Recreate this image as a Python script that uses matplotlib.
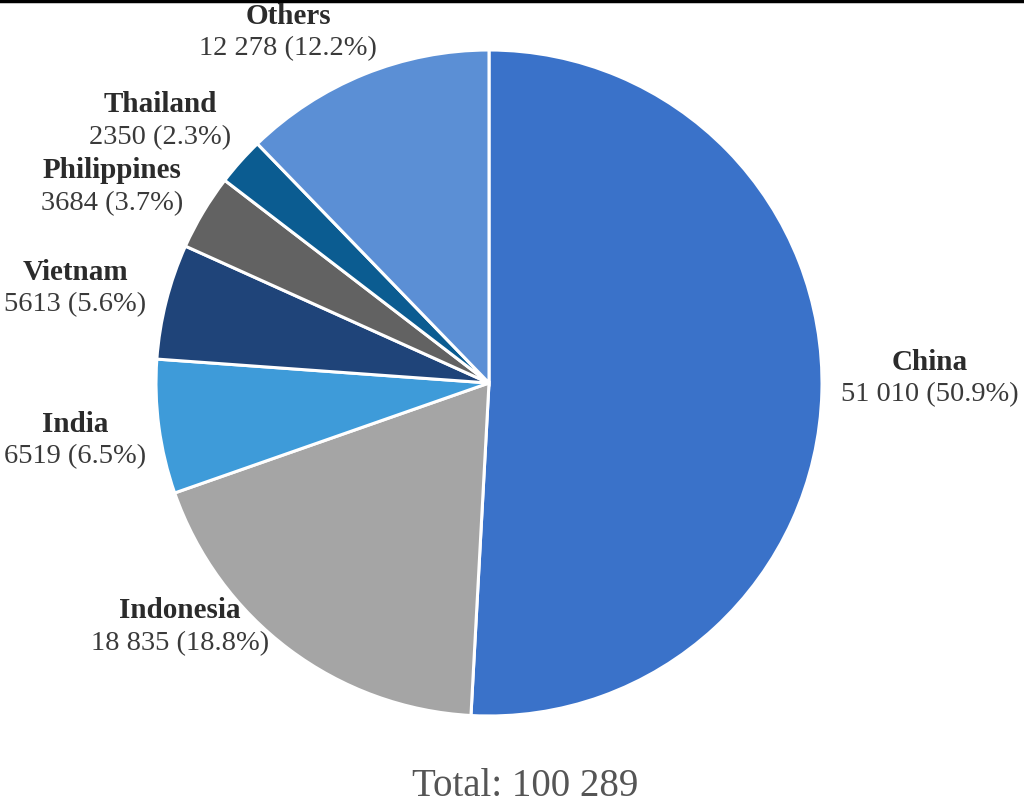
import matplotlib
matplotlib.use("Agg")
import matplotlib.pyplot as plt
from matplotlib.lines import Line2D

countries = ["China", "Indonesia", "India", "Vietnam", "Philippines", "Thailand", "Others"]
values = [51010, 18835, 6519, 5613, 3684, 2350, 12278]
value_labels = ["51 010 (50.9%)", "18 835 (18.8%)", "6519 (6.5%)", "5613 (5.6%)",
                "3684 (3.7%)", "2350 (2.3%)", "12 278 (12.2%)"]
total_label = "Total: 100 289"

colors = ["#3a72c9", "#a5a5a5", "#3e9bd9", "#1f4479", "#626262", "#0b5c91", "#5b8fd5"]
# label centres in pixel coords (x, y of name line from top)
label_px = [(930, 362), (180, 611), (75, 424), (75, 272), (112, 171), (160, 105), (288, 16)]

W, H = 1024, 806
fig = plt.figure(figsize=(W / 100, H / 100), dpi=100)
plt.rcParams["font.family"] = ["Liberation Serif", "DejaVu Serif"]

cx, cy, r = 489, 383, 333
ax = fig.add_axes([(cx - r) / W, (H - cy - r) / H, 2 * r / W, 2 * r / H])
ax.pie(values, colors=colors, startangle=90, counterclock=False,
       wedgeprops=dict(edgecolor="white", linewidth=2.2))
ax.set_xlim(-1, 1)
ax.set_ylim(-1, 1)
ax.set_aspect("equal")
ax.axis("off")

for name, val, (px, py) in zip(countries, value_labels, label_px):
    fig.text(px / W, 1 - py / H, name, ha="center", va="center",
             fontsize=21, fontweight="bold", color="#2b2b2b")
    fig.text(px / W, 1 - (py + 33) / H, val, ha="center", va="center",
             fontsize=20.5, color="#3a3a3a")

fig.text(525 / W, 1 - 787 / H, total_label, ha="center", va="center",
         fontsize=28, color="#555555")

fig.add_artist(Line2D([0, 1], [0.999, 0.999], transform=fig.transFigure,
                      color="black", linewidth=2.5))

fig.savefig("out.png", dpi=100)
